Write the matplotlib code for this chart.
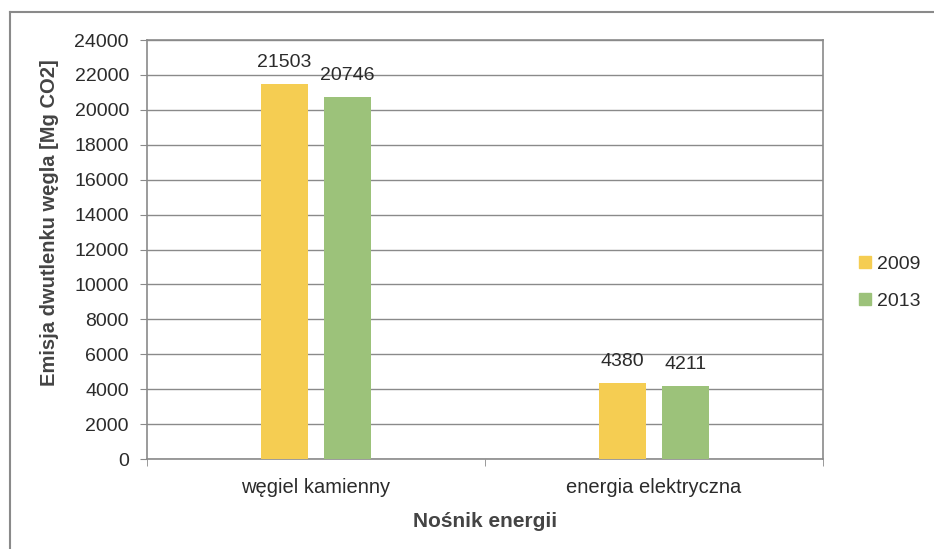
import matplotlib
matplotlib.use("Agg")
import matplotlib.pyplot as plt
import numpy as np
from matplotlib.lines import Line2D

# ---------------------------------------------------------------------------
# Data
# ---------------------------------------------------------------------------
categories = ["węgiel kamienny", "energia elektryczna"]
years = ["2009", "2013"]
values_2009 = [21503, 4380]
values_2013 = [20746, 4211]
y_ticks = list(range(0, 24001, 2000))

plt.rcParams["font.family"] = ["Liberation Sans", "DejaVu Sans"]

colors = {"2009": "#f5cd52", "2013": "#9cc27a"}
grid_col = "#8a8a8a"
text_col = "#2b2b2b"

fig = plt.figure(figsize=(9.34, 5.49), dpi=100)
ax = fig.add_axes([0.1574, 0.1639, 0.881 - 0.1574, 0.9271 - 0.1639])

x = np.arange(len(categories))
width = 0.14
offset = 0.093
for vals, year, sign in [(values_2009, "2009", -1), (values_2013, "2013", 1)]:
    bars = ax.bar(x + sign * offset, vals, width, color=colors[year], zorder=3)
    for b, v in zip(bars, vals):
        ax.annotate(str(v), (b.get_x() + b.get_width() / 2, v),
                    xytext=(0, 9), textcoords="offset points",
                    ha="center", va="bottom", fontsize=14, color=text_col)

ax.set_xlim(-0.5, len(categories) - 0.5)
ax.set_ylim(0, 24000)
ax.set_yticks(y_ticks)
ax.set_yticklabels([str(t) for t in y_ticks], fontsize=14, color=text_col)
ax.yaxis.grid(True, color=grid_col, linewidth=1.0, zorder=0)
ax.set_axisbelow(True)

# category labels, with ticks on category boundaries
ax.set_xticks(x)
ax.set_xticklabels(categories, fontsize=14.5, color=text_col)
ax.tick_params(axis="x", length=0, pad=14)
ax.set_xticks(np.arange(-0.5, len(categories)), minor=True)
ax.tick_params(axis="x", which="minor", length=5, color=grid_col)
ax.tick_params(axis="y", length=5, color=grid_col, pad=8)

for s in ax.spines.values():
    s.set_color(grid_col)
    s.set_linewidth(1.2)

ax.set_xlabel("Nośnik energii", fontsize=15, fontweight="bold", color="#444444")
ax.xaxis.set_label_coords(0.5, -0.127)
ax.set_ylabel("Emisja dwutlenku węgla [Mg CO2]", fontsize=14.5, fontweight="bold",
              color="#444444")
ax.yaxis.set_label_coords(-0.13, 0.563)

handles = [Line2D([], [], marker="s", linestyle="none", markersize=8,
                  color=colors[y]) for y in years]
fig.legend(handles, years, loc="center left", bbox_to_anchor=(0.92, 0.485),
           frameon=False, fontsize=14, handletextpad=0.3, labelspacing=1.0,
           handlelength=0.6, borderaxespad=0.0, borderpad=0.0,
           labelcolor=text_col)

# outer chart frame (scanned page: left and top edges only)
fig.add_artist(Line2D([0.0107, 0.0107], [0.0, 0.978], transform=fig.transFigure,
                      color=grid_col, linewidth=1.5))
fig.add_artist(Line2D([0.0107, 1.0], [0.978, 0.978], transform=fig.transFigure,
                      color=grid_col, linewidth=1.5))

fig.savefig("out.png", dpi=100)
